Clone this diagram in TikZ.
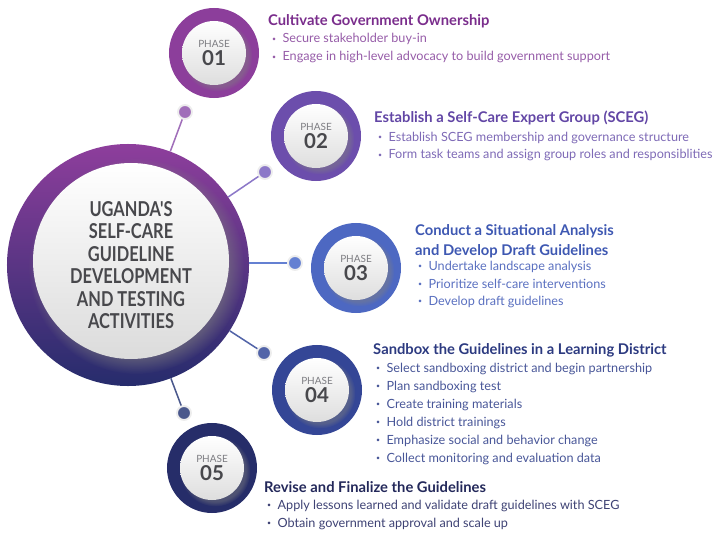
\documentclass[tikz,border=0pt]{standalone}
\usepackage{fontspec}
\setmainfont{Lato}
\newfontfamily\hubfont[FakeStretch=0.8]{Lato}
\usetikzlibrary{shadows}

% colours of the phases, purple to navy
\definecolor{hubtop}{RGB}{142,62,156}
\definecolor{hubmid}{RGB}{76,102,192}
\definecolor{hubbot}{RGB}{38,44,108}
\definecolor{ringA}{RGB}{140,62,155}
\definecolor{ringB}{RGB}{108,78,172}
\definecolor{ringC}{RGB}{77,104,194}
\definecolor{ringD}{RGB}{52,70,150}
\definecolor{ringE}{RGB}{38,45,105}
\definecolor{dotA}{RGB}{160,110,185}
\definecolor{dotB}{RGB}{140,120,200}
\definecolor{dotC}{RGB}{100,128,210}
\definecolor{dotD}{RGB}{82,100,168}
\definecolor{dotE}{RGB}{74,88,140}
\definecolor{headA}{RGB}{122,45,140}
\definecolor{headB}{RGB}{98,70,165}
\definecolor{headC}{RGB}{62,88,178}
\definecolor{headD}{RGB}{44,58,128}
\definecolor{headE}{RGB}{35,40,90}
\definecolor{itemA}{RGB}{150,92,168}
\definecolor{itemB}{RGB}{126,106,182}
\definecolor{itemC}{RGB}{90,112,192}
\definecolor{itemD}{RGB}{72,86,152}
\definecolor{itemE}{RGB}{62,66,116}
\definecolor{darktext}{RGB}{72,72,76}
\definecolor{phasegray}{RGB}{125,125,130}

\newcommand{\bul}{\raisebox{.3ex}{\scalebox{.55}{\textbullet}}\hspace{.5em}}
\newcommand{\phasetext}[1]{{\fontsize{8.5}{9}\selectfont\color{phasegray}PHASE}\\{\bfseries #1}}

\tikzset{
  ring/.style={circle, fill=#1, minimum size=2.7cm, inner sep=0pt},
  disc/.style={circle, top color=white, bottom color=black!13, minimum size=1.92cm,
    inner sep=0pt, align=center, text=darktext, font=\fontsize{17.5}{15.5}\selectfont,
    circular drop shadow={shadow xshift=2.5pt, shadow yshift=-2.5pt, opacity=.45}},
  dot/.style={circle, fill=#1, draw=black!7, line width=1.6pt, minimum size=0.42cm, inner sep=0pt},
  link/.style={draw=#1, line width=1.3pt},
  head/.style={anchor=base west, inner sep=0pt, font=\fontsize{12.6}{13}\selectfont\bfseries, text=#1},
  item/.style={anchor=base west, inner sep=0pt, font=\fontsize{10.8}{11}\selectfont, text=#1}
}

\begin{document}
\begin{tikzpicture}[x=0.03cm, y=-0.03cm]
\useasboundingbox (0,0) rectangle (722,538);

% big hub circle
\node[circle, minimum size=7.26cm, inner sep=0pt,
  top color=hubtop, middle color=hubmid, bottom color=hubbot] (hub) at (128,265) {};
\node[circle, minimum size=5.88cm, inner sep=0pt, top color=white, bottom color=black!14,
  circular drop shadow={shadow xshift=4pt, shadow yshift=-4pt, opacity=.5}] (hubin) at (131,261) {};
\node[align=center, text=darktext, font=\hubfont\fontsize{17.5}{19.2}\selectfont\bfseries] (hubtxt) at (131,265)
  {UGANDA'S\\SELF-CARE\\GUIDELINE\\DEVELOPMENT\\AND TESTING\\ACTIVITIES};

% small dots and their links
\node[dot=dotA] (d1) at (185,112) {};
\node[dot=dotB] (d2) at (265,172) {};
\node[dot=dotC] (d3) at (295,263) {};
\node[dot=dotD] (d4) at (264,353) {};
\node[dot=dotE] (d5) at (184,413) {};
\draw[link=dotA] (hub) -- (d1);
\draw[link=dotB] (hub) -- (d2);
\draw[link=dotC] (hub.east |- d3) -- (d3);
\draw[link=dotD] (hub) -- (d4);
\draw[link=dotE] (hub) -- (d5);

% phase rings
\node[ring=ringA] (p1) at (214,53) {};
\node[disc] (c1) at (p1) {\phasetext{01}};
\node[ring=ringB] (p2) at (316,136) {};
\node[disc] (c2) at (p2) {\phasetext{02}};
\node[ring=ringC] (p3) at (356,268) {};
\node[disc] (c3) at (p3) {\phasetext{03}};
\node[ring=ringD] (p4) at (317,390) {};
\node[disc] (c4) at (p4) {\phasetext{04}};
\node[ring=ringE] (p5) at (212,468) {};
\node[disc] (c5) at (p5) {\phasetext{05}};

% phase 01
\node[head=headA] (h1) at (268,26) {Cultivate Government Ownership};
\foreach \txt [count=\i] in {Secure stakeholder buy-in,
    Engage in high-level advocacy to build government support}
  \node[item=itemA] (a\i) at (272,25+18*\i) {\bul\txt};

% phase 02
\node[head=headB] (h2) at (374,123) {Establish a Self-Care Expert Group (SCEG)};
\foreach \txt [count=\i] in {Establish SCEG membership and governance structure,
    Form task teams and assign group roles and responsiblities}
  \node[item=itemB] (b\i) at (378,124+17.5*\i) {\bul\txt};

% phase 03
\node[head=headC] (h3) at (415,235) {Conduct a Situational Analysis};
\node[head=headC] (h3b) at (415,255) {and Develop Draft Guidelines};
\foreach \txt [count=\i] in {Undertake landscape analysis,
    Prioritize self-care interventions, Develop draft guidelines}
  \node[item=itemC] (c\i) at (418,253+17.5*\i) {\bul\txt};

% phase 04
\node[head=headD] (h4) at (373,354) {Sandbox the Guidelines in a Learning District};
\foreach \txt [count=\i] in {Select sandboxing district and begin partnership,
    Plan sandboxing test, Create training materials, Hold district trainings,
    Emphasize social and behavior change, Collect monitoring and evaluation data}
  \node[item=itemD] (e\i) at (376,354+18*\i) {\bul\txt};

% phase 05
\node[head=headE] (h5) at (264,492) {Revise and Finalize the Guidelines};
\foreach \txt [count=\i] in {Apply lessons learned and validate draft guidelines with SCEG,
    Obtain government approval and scale up}
  \node[item=itemE] (f\i) at (267,491+18*\i) {\bul\txt};
\end{tikzpicture}
\end{document}
